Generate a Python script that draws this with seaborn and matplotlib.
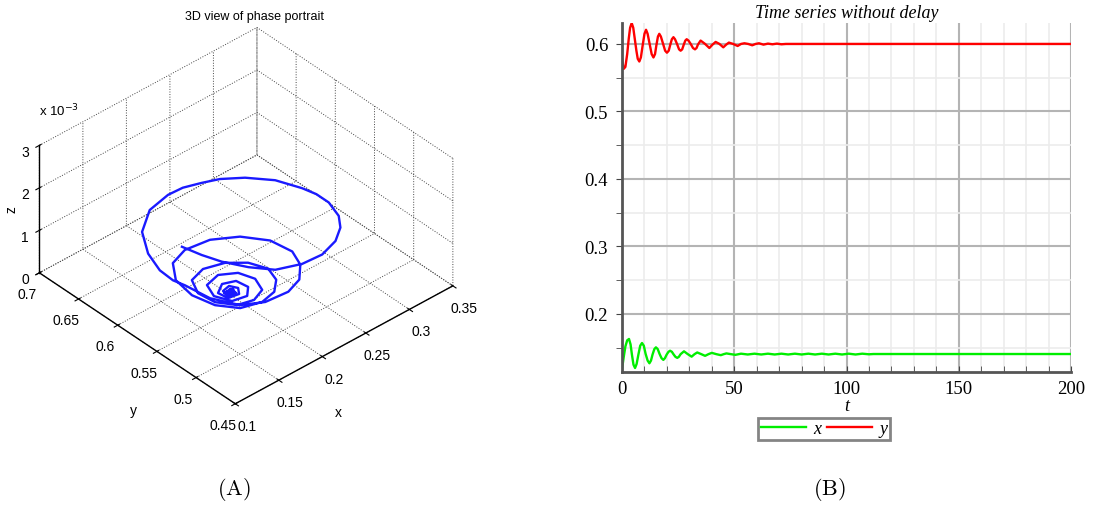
import numpy as np
import pandas as pd
import seaborn as sns
import matplotlib
matplotlib.use("Agg")
import matplotlib.pyplot as plt
from matplotlib.ticker import MultipleLocator
from matplotlib.lines import Line2D

# panel A: phase trajectory (z in units of 1e-3)
traj_x = [0.1789, 0.1824, 0.1864, 0.1945, 0.2054, 0.2231, 0.2412, 0.2588, 0.2723, 0.2799,
          0.2851, 0.2839, 0.2805, 0.2710, 0.2555, 0.2395, 0.2266, 0.2113, 0.1976, 0.1752,
          0.1556, 0.1449, 0.1425, 0.1462,
          0.1515, 0.1612, 0.1786, 0.1999, 0.2255, 0.2440, 0.2589, 0.2662, 0.2626, 0.2484,
          0.2275, 0.2031, 0.1842, 0.1711, 0.1683, 0.1747, 0.1885, 0.2089, 0.2262, 0.2389,
          0.2443, 0.2378, 0.2236, 0.2038, 0.1868, 0.1789, 0.1812, 0.1927, 0.2087, 0.2234,
          0.2297, 0.2246, 0.2101, 0.1935, 0.1877, 0.1946, 0.2092, 0.2185, 0.2165, 0.2048,
          0.1938, 0.1954, 0.2064, 0.2115, 0.2076, 0.1991, 0.1982, 0.2049, 0.2076, 0.2025,
          0.1980, 0.1980, 0.2057, 0.2057, 0.1995, 0.1995, 0.2050, 0.2050, 0.2005, 0.2005,
          0.2042, 0.2042, 0.2025]
traj_y = [0.6057, 0.5844, 0.5632, 0.5381, 0.5160, 0.5015, 0.4959, 0.4985, 0.5072, 0.5178,
          0.5363, 0.5508, 0.5653, 0.5890, 0.6102, 0.6245, 0.6336, 0.6406, 0.6442, 0.6427,
          0.6307, 0.6111, 0.5935, 0.5808,
          0.5714, 0.5501, 0.5311, 0.5227, 0.5217, 0.5282, 0.5435, 0.5619, 0.5861, 0.6087,
          0.6239, 0.6289, 0.6232, 0.6048, 0.5811, 0.5588, 0.5420, 0.5366, 0.5404, 0.5520,
          0.5683, 0.5867, 0.6004, 0.6065, 0.6018, 0.5852, 0.5660, 0.5506, 0.5467, 0.5527,
          0.5687, 0.5848, 0.5943, 0.5900, 0.5746, 0.5592, 0.5561, 0.5652, 0.5784, 0.5833,
          0.5762, 0.5652, 0.5633, 0.5702, 0.5775, 0.5757, 0.5670, 0.5668, 0.5723, 0.5730,
          0.5732, 0.5655, 0.5663, 0.5740, 0.5725, 0.5665, 0.5670, 0.5730, 0.5718, 0.5675,
          0.5678, 0.5722, 0.5700]
traj_z = [0.90, 0.93, 0.99, 1.08, 1.17, 1.29, 1.38, 1.47, 1.53, 1.59,
          1.62, 1.65, 1.65, 1.65, 1.62, 1.59, 1.53, 1.50, 1.44, 1.35,
          1.20, 1.05, 0.90, 0.78,
          0.72, 0.57, 0.45, 0.39, 0.36, 0.36, 0.36, 0.36, 0.36, 0.33,
          0.30, 0.27, 0.24, 0.21, 0.18, 0.15, 0.135, 0.12, 0.12, 0.12,
          0.12, 0.105, 0.09, 0.09, 0.075, 0.06, 0.06, 0.054, 0.045, 0.045,
          0.039, 0.036, 0.03, 0.03, 0.024, 0.021, 0.018, 0.015, 0.015, 0.012,
          0.009, 0.009, 0.006, 0.006, 0.006, 0.003, 0.003, 0.003, 0, 0,
          0, 0, 0, 0, 0, 0, 0, 0, 0, 0,
          0, 0, 0]

# panel B: time series without delay
t_y = [0, 0.7, 1.5, 2.3, 3.0, 3.6, 4.3, 5.0, 5.7, 6.4, 7.0, 7.7, 8.4, 9.2, 10.0, 10.7,
       11.4, 12.3, 13.2, 14.0, 14.7, 15.3, 16.0, 16.6, 17.3, 18.3, 19.2, 20.0, 20.8, 21.5,
       22.2, 22.9, 23.6, 24.5, 25.4, 26.1, 26.8, 27.5, 28.2, 28.8, 29.6, 30.6, 31.6, 32.5,
       33.2, 33.8, 35.0, 37.0, 38.9, 40.3, 41.7, 43.4, 45.1, 46.4, 47.6, 49.5, 51.5, 53.0,
       54.5, 56.2, 58.0, 59.5, 61.0, 63.0, 65.0, 67.0, 69.0, 71.0, 73.0, 200]
y_vals = [0.578, 0.563, 0.566, 0.585, 0.608, 0.624, 0.631, 0.624, 0.607, 0.590, 0.578,
          0.574, 0.580, 0.598, 0.615, 0.621, 0.615, 0.600, 0.585, 0.580, 0.585, 0.598,
          0.611, 0.615, 0.611, 0.600, 0.590, 0.587, 0.590, 0.599, 0.607, 0.610, 0.607,
          0.600, 0.592, 0.590, 0.592, 0.599, 0.605, 0.607, 0.605, 0.600, 0.594, 0.592,
          0.594, 0.599, 0.605, 0.600, 0.594, 0.599, 0.603, 0.600, 0.595, 0.599, 0.602,
          0.600, 0.597, 0.600, 0.601, 0.600, 0.598, 0.600, 0.601, 0.599, 0.6005, 0.5995,
          0.6005, 0.5995, 0.600, 0.600]
t_x = [0, 0.7, 1.5, 2.3, 3.1, 3.8, 4.4, 5.1, 5.8, 6.5, 7.3, 8.1, 8.9, 9.7, 10.5, 11.4,
       12.2, 12.9, 13.6, 14.4, 15.1, 15.9, 16.7, 17.6, 18.4, 19.1, 19.9, 20.7, 21.4, 22.2,
       23.0, 23.8, 24.6, 25.3, 26.1, 27.6, 29.3, 31.0, 32.3, 33.5, 35.3, 37.0, 38.5, 40.0,
       42.0, 44.0, 45.3, 46.5, 48.5, 50.5, 53, 56, 59, 62, 65, 68, 71, 74, 77, 80, 83,
       86, 89, 92, 95, 98, 101, 104, 107, 110, 112, 200]
x_vals = [0.1185, 0.135, 0.152, 0.161, 0.163, 0.155, 0.140, 0.125, 0.120, 0.126, 0.140,
          0.153, 0.157, 0.153, 0.141, 0.131, 0.127, 0.131, 0.140, 0.148, 0.1506, 0.148,
          0.141, 0.1345, 0.132, 0.1345, 0.140, 0.144, 0.1456, 0.144, 0.140, 0.1365, 0.135,
          0.1365, 0.1405, 0.1447, 0.1405, 0.1368, 0.1405, 0.143, 0.1405, 0.138, 0.1405,
          0.1424, 0.1405, 0.139, 0.1405, 0.1416, 0.1405, 0.1395, 0.1412, 0.1400, 0.1412,
          0.1400, 0.1412, 0.1400, 0.1412, 0.1400, 0.1412, 0.1400, 0.1412, 0.1400, 0.1412,
          0.1400, 0.1412, 0.1400, 0.1412, 0.1400, 0.1412, 0.1403, 0.1407, 0.1407]

fig = plt.figure(figsize=(10.93, 5.10), dpi=100)

# ---------- (A) 3D phase portrait ----------
plt.rcParams['font.family'] = ['Liberation Sans', 'DejaVu Sans']
ax3 = fig.add_axes([-0.0055, 0.1131, 0.45, 0.9], projection='3d')
ax3.plot(traj_x, traj_y, traj_z, color='#1a1aff', lw=1.7)
ax3.set_proj_type('ortho')
ax3.view_init(elev=37, azim=-132)
ax3.set_box_aspect((1, 1, 0.545), zoom=0.9385)
ax3.set_xlim(0.1, 0.35)
ax3.set_ylim(0.45, 0.7)
ax3.set_zlim(0, 3)
ax3.set_xticks([0.1, 0.15, 0.2, 0.25, 0.3, 0.35])
ax3.set_yticks([0.45, 0.5, 0.55, 0.6, 0.65, 0.7])
ax3.set_zticks([0, 1, 2, 3])
ax3.set_xticklabels(['0.1', '0.15', '0.2', '0.25', '0.3', '0.35'])
ax3.set_yticklabels(['0.45', '0.5', '0.55', '0.6', '0.65', '0.7'])
ax3.set_zticklabels(['0', '1', '2', '3'])
for axis in (ax3.xaxis, ax3.yaxis, ax3.zaxis):
    axis.pane.set_facecolor((1, 1, 1, 0))
    axis.pane.set_edgecolor((1, 1, 1, 0))
    axis._axinfo['grid'].update({'color': '#444444', 'linestyle': ':', 'linewidth': 0.7})
    axis.line.set_color('k')
    axis.line.set_linewidth(1.0)
    axis.set_tick_params(labelsize=10, pad=2)
ax3.zaxis.set_tick_params(pad=-2)
fig.text(133 / 1093, 1 - 411 / 510, 'y', ha='center', va='center', fontsize=10)
fig.text(338 / 1093, 1 - 413 / 510, 'x', ha='center', va='center', fontsize=10)
fig.text(11 / 1093, 1 - 210 / 510, 'z', ha='center', va='center', fontsize=10, rotation=90)
fig.text(0.2333, 0.966, '3D view of phase portrait', ha='center', va='center', fontsize=9)
fig.text(0.036, 0.782, r'x 10$^{-3}$', ha='left', va='center', fontsize=9.5)

# ---------- (B) time series ----------
ax = fig.add_axes([0.5691, 0.2692, 0.4108, 0.6837])
df_x = pd.DataFrame({'t': t_x, 'v': x_vals})
df_y = pd.DataFrame({'t': t_y, 'v': y_vals})
sns.lineplot(data=df_x, x='t', y='v', color='#00ee00', lw=1.7, sort=False, ax=ax)
sns.lineplot(data=df_y, x='t', y='v', color='#ff0000', lw=1.7, sort=False, ax=ax)
ax.set_xlim(0, 200)
ax.set_ylim(0.1145, 0.631)
ax.xaxis.set_major_locator(MultipleLocator(50))
ax.xaxis.set_minor_locator(MultipleLocator(10))
ax.yaxis.set_major_locator(MultipleLocator(0.1))
ax.yaxis.set_minor_locator(MultipleLocator(0.05))
ax.grid(which='major', color='#b4b4b4', lw=1.5)
ax.grid(which='minor', color='#ececec', lw=1.2)
ax.set_axisbelow(True)
for s in ('top', 'right'):
    ax.spines[s].set_visible(False)
for s in ('left', 'bottom'):
    ax.spines[s].set_color('#555555')
    ax.spines[s].set_linewidth(2)
serif = ['Liberation Serif', 'DejaVu Serif']
ax.tick_params(axis='x', which='both', direction='in', length=4, color='#444444',
               labelsize=13.5, pad=6)
ax.tick_params(axis='y', which='both', direction='out', length=4, color='#444444',
               labelsize=13.5, pad=6)
ax.set_xticks([0, 50, 100, 150, 200])
ax.set_xticklabels(['0', '50', '100', '150', '200'], family=serif)
ax.set_yticks([0.2, 0.3, 0.4, 0.5, 0.6])
ax.set_yticklabels(['0.2', '0.3', '0.4', '0.5', '0.6'], family=serif)
ax.set_xlabel('t', family=serif, style='italic', fontsize=13, labelpad=0)
ax.set_ylabel('')
ax.set_title('Time series without delay', family=serif, style='italic', fontsize=13, pad=4)
handles = [Line2D([], [], color='#00ee00', lw=1.7), Line2D([], [], color='#ff0000', lw=1.7)]
leg = fig.legend(handles, ['x', 'y'], loc='center', bbox_to_anchor=(0.754, 0.157), ncol=2,
                 prop={'family': serif, 'style': 'italic', 'size': 13}, handlelength=2.5,
                 handletextpad=0.4, columnspacing=0.3, borderpad=0.15, fancybox=False,
                 edgecolor='#666666')
leg.get_frame().set_linewidth(2)

plt.rcParams['mathtext.fontset'] = 'cm'
fig.text(0.214, 0.04, r'$(\mathrm{A})$', ha='center', va='center', fontsize=16)
fig.text(0.759, 0.04, r'$(\mathrm{B})$', ha='center', va='center', fontsize=16)

fig.savefig('out.png', dpi=100)
